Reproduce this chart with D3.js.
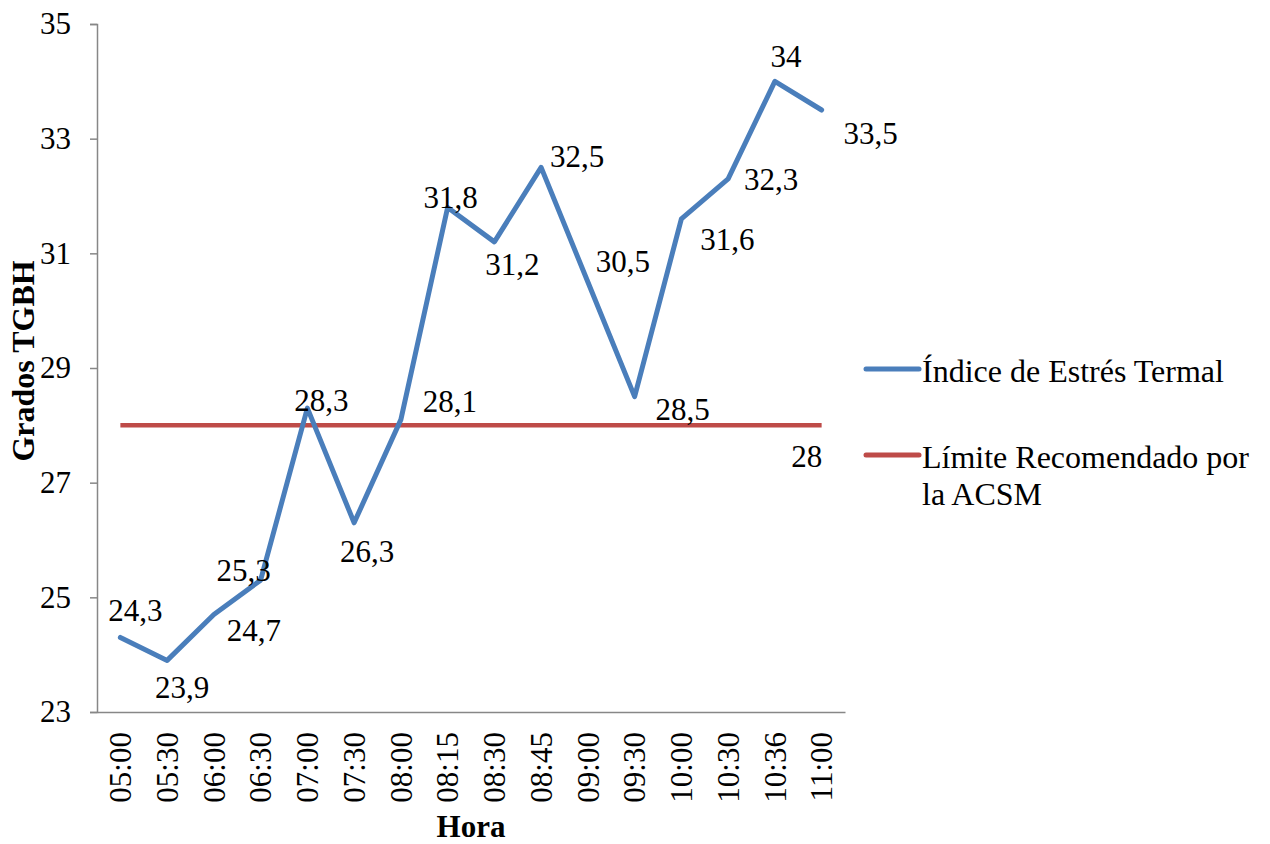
<!DOCTYPE html>
<html>
<head>
<meta charset="utf-8">
<script src="https://cdn.jsdelivr.net/npm/d3@7"></script>
</head>
<body style="margin:0;background:#fff">
<svg id="chart" width="1270" height="844" style="display:block"></svg>
<script>
// Hourly readings
const horas = ["05:00","05:30","06:00","06:30","07:00","07:30","08:00","08:15",
               "08:30","08:45","09:00","09:30","10:00","10:30","10:36","11:00"];
const indiceEstres = [24.3, 23.9, 24.7, 25.3, 28.3, 26.3, 28.1, 31.8,
                      31.2, 32.5, 30.5, 28.5, 31.6, 32.3, 34, 33.5];
const limiteACSM = horas.map(() => 28);
const yTicks = [23, 25, 27, 29, 31, 33, 35];

// Label placement (offset from the point, in px)
const labelOffsets = [[15,-27],[15,27],[40,16],[-17,-10],[14,-8],[13,28],[49,-18],[3,-10],
                      [18,22],[36,-11],[35,-21],[48,12],[46,20],[43,0],[11,-25],[49,23]];
const limitLabelOffset = [-15, 31];

const FONT = "'Liberation Serif'";
const FS = 31;

const svg = d3.select("#chart");
const m = { left: 97, right: 845, top: 24, bottom: 712 };

const x = d3.scaleBand().domain(horas).range([m.left, m.right]);
const y = d3.scaleLinear().domain([23, 35]).range([m.bottom, m.top]);
const cx = d => x(d) + x.bandwidth() / 2;
const fmt = v => String(v).replace(".", ",");

// shared text styling
const serif = (sel, size = FS) => sel
  .attr("font-family", null)
  .style("font-family", FONT)
  .style("font-size", size + "px")
  .attr("fill", "#000");

// y axis
const yAxis = svg.append("g")
  .attr("transform", `translate(${m.left},0)`)
  .call(d3.axisLeft(y).tickValues(yTicks).tickSize(7).tickPadding(19).tickFormat(d => d));
yAxis.attr("font-family", null).attr("font-size", null);
yAxis.select(".domain").attr("stroke", "#878787").attr("stroke-width", 1.5);
yAxis.selectAll(".tick line").attr("stroke", "#878787").attr("stroke-width", 1.5);
yAxis.selectAll(".tick text").call(serif);

// x axis
const xAxis = svg.append("g")
  .attr("transform", `translate(0,${m.bottom})`)
  .call(d3.axisBottom(x).tickSize(0).tickPadding(0));
xAxis.attr("font-family", null).attr("font-size", null);
xAxis.select(".domain").attr("stroke", "#878787").attr("stroke-width", 1.5);
xAxis.selectAll(".tick text").call(serif)
  .attr("transform", "rotate(-90)")
  .attr("text-anchor", "end")
  .attr("x", -20).attr("y", 0).attr("dy", "0.35em");

// axis titles
svg.append("text")
  .attr("transform", "translate(34,361) rotate(-90)")
  .attr("text-anchor", "middle")
  .call(serif, 32).style("font-weight", "bold")
  .text("Grados TGBH");
svg.append("text")
  .attr("x", 471).attr("y", 837)
  .attr("text-anchor", "middle")
  .call(serif).style("font-weight", "bold")
  .text("Hora");

const line = d3.line().x((d, i) => cx(horas[i])).y(d => y(d));

// recommended limit
svg.append("path").datum(limiteACSM)
  .attr("d", line).attr("fill", "none")
  .attr("stroke", "#be4b48").attr("stroke-width", 4.5);

// stress index
svg.append("path").datum(indiceEstres)
  .attr("d", line).attr("fill", "none")
  .attr("stroke", "#4a7ebb").attr("stroke-width", 5)
  .attr("stroke-linejoin", "round").attr("stroke-linecap", "round");

// data labels
svg.append("g").selectAll("text").data(indiceEstres).join("text")
  .attr("x", (d, i) => cx(horas[i]) + labelOffsets[i][0])
  .attr("y", (d, i) => y(d) + labelOffsets[i][1])
  .attr("text-anchor", "middle").attr("dy", "0.35em")
  .call(serif)
  .text(d => fmt(d));

const last = horas.length - 1;
svg.append("text")
  .attr("x", cx(horas[last]) + limitLabelOffset[0])
  .attr("y", y(limiteACSM[last]) + limitLabelOffset[1])
  .attr("text-anchor", "middle").attr("dy", "0.35em")
  .call(serif)
  .text(fmt(limiteACSM[last]));

// legend
const legend = svg.append("g");
const items = [
  { color: "#4a7ebb", lines: ["Índice de Estrés Termal"], y: 369 },
  { color: "#be4b48", lines: ["Límite Recomendado por", "la ACSM"], y: 455 }
];
items.forEach(it => {
  legend.append("line")
    .attr("x1", 866).attr("x2", 919).attr("y1", it.y).attr("y2", it.y)
    .attr("stroke", it.color).attr("stroke-width", 5).attr("stroke-linecap", "round");
  it.lines.forEach((t, k) => {
    legend.append("text")
      .attr("x", 922).attr("y", it.y + 13 + k * 37)
      .call(serif, 32).text(t);
  });
});
</script>
</body>
</html>
